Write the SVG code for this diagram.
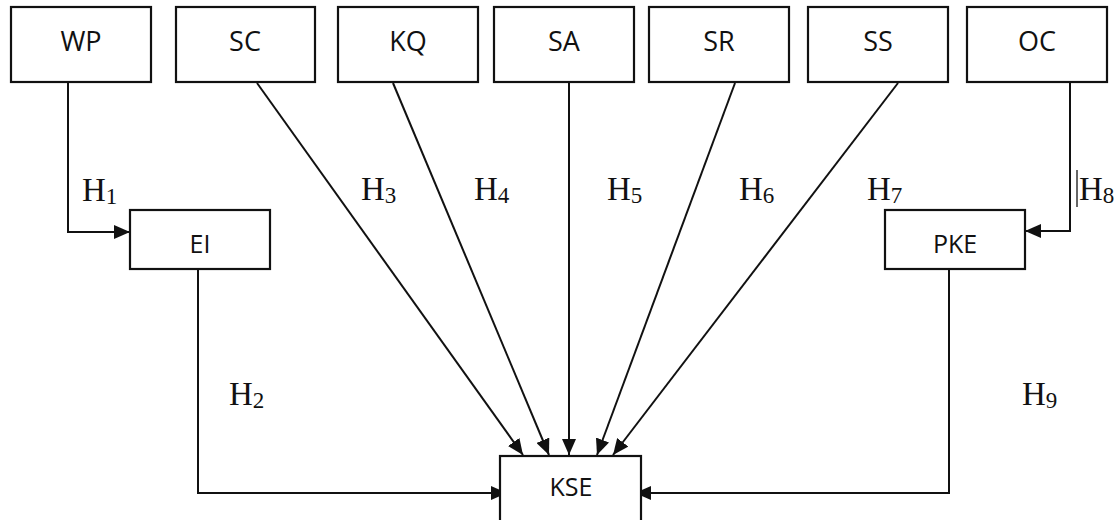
<svg xmlns="http://www.w3.org/2000/svg" width="1116" height="520" viewBox="0 0 1116 520">
<style>
.box{fill:#fff;stroke:#111;stroke-width:2.2}
.lbl{font-family:"Open Sans","Liberation Sans",sans-serif;font-size:27px;fill:#111;text-anchor:middle}
.lbl2{font-family:"Open Sans","Liberation Sans",sans-serif;font-size:25px;fill:#111;text-anchor:middle}
.h{font-family:"Liberation Serif","Times New Roman",serif;font-size:33px;fill:#111}
.sub{font-size:23px}
.c{fill:none;stroke:#111;stroke-width:2;marker-end:url(#ah)}
</style>
<defs>
<marker id="ah" viewBox="0 0 16 14" refX="16" refY="7" markerWidth="16" markerHeight="14" markerUnits="userSpaceOnUse" orient="auto">
<path d="M0,0 L16,7 L0,14 Z" fill="#111"/>
</marker>
</defs>
<rect width="1116" height="520" fill="#fff"/>
<g id="connectors">
<path class="c" d="M68,83 V232 H130"/>
<path class="c" d="M198,269 V493 H507"/>
<path class="c" d="M257,83 L523,455"/>
<path class="c" d="M393,83 L549,455"/>
<path class="c" d="M569,83 V455"/>
<path class="c" d="M735,83 L597,455"/>
<path class="c" d="M898,83 L613,455"/>
<path class="c" d="M1070,83 V231 H1025"/>
<path class="c" d="M949,269 V493 H635"/>
<line x1="1077" y1="170" x2="1077" y2="207" stroke="#333" stroke-width="1.5"/>
</g>
<g id="labels">
<text class="h" x="82" y="201">H<tspan class="sub" dy="3">1</tspan></text>
<text class="h" x="229" y="405">H<tspan class="sub" dy="3">2</tspan></text>
<text class="h" x="361" y="200">H<tspan class="sub" dy="3">3</tspan></text>
<text class="h" x="474" y="200">H<tspan class="sub" dy="3">4</tspan></text>
<text class="h" x="607" y="200">H<tspan class="sub" dy="3">5</tspan></text>
<text class="h" x="739" y="200">H<tspan class="sub" dy="3">6</tspan></text>
<text class="h" x="867" y="200">H<tspan class="sub" dy="3">7</tspan></text>
<text class="h" x="1079" y="200">H<tspan class="sub" dy="3">8</tspan></text>
<text class="h" x="1022" y="405">H<tspan class="sub" dy="3">9</tspan></text>
</g>
<g id="WP"><rect class="box" x="11" y="7" width="140" height="75"/><text class="lbl" x="81" y="51">WP</text></g>
<g id="SC"><rect class="box" x="176" y="7" width="139" height="75"/><text class="lbl" x="245" y="51">SC</text></g>
<g id="KQ"><rect class="box" x="338" y="7" width="140" height="75"/><text class="lbl" x="408" y="51">KQ</text></g>
<g id="SA"><rect class="box" x="494" y="7" width="140" height="75"/><text class="lbl" x="564" y="51">SA</text></g>
<g id="SR"><rect class="box" x="649" y="7" width="140" height="75"/><text class="lbl" x="719" y="51">SR</text></g>
<g id="SS"><rect class="box" x="808" y="7" width="140" height="75"/><text class="lbl" x="878" y="51">SS</text></g>
<g id="OC"><rect class="box" x="967" y="7" width="140" height="75"/><text class="lbl" x="1037" y="51">OC</text></g>
<g id="EI"><rect class="box" x="130" y="210" width="140" height="59"/><text class="lbl2" x="200" y="253">EI</text></g>
<g id="PKE"><rect class="box" x="885" y="210" width="140" height="59"/><text class="lbl2" x="955" y="253">PKE</text></g>
<g id="KSE"><rect class="box" x="500" y="456" width="141" height="80"/><text class="lbl2" x="571" y="496">KSE</text></g>
</svg>
